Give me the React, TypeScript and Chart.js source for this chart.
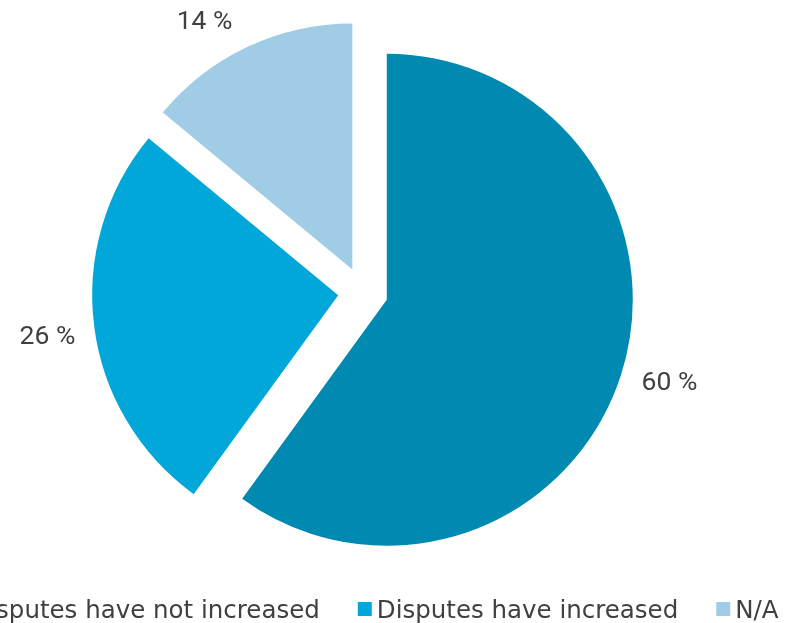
import React, { useEffect, useRef } from "react";
import { Chart, registerables } from "chart.js";

Chart.register(...registerables);

const categories = ["Disputes have not increased", "Disputes have increased", "N/A"];
const shares = [60, 26, 14];
const valueLabels = ["60 %", "26 %", "14 %"];
const colors = ["#0089B1", "#00A7D8", "#A1CCE5"];

const LABEL_FONT = "Roboto, 'DejaVu Sans', sans-serif";
const LEGEND_FONT = "'DejaVu Sans', Verdana, sans-serif";
const CANVAS_W = 912;
const CANVAS_H = 623;
const SHIFT_X = -120;
const EXPLODE = 25;
const RADIUS = 246;
const LABEL_GAP = 47;
// small per-label placement tweaks (px), label order follows slices
const LABEL_NUDGE_X = [4, 0, -23];
const LABEL_NUDGE_Y = [-7, 6, 18];
const LEGEND_CX = 485;
const LEGEND_BASE = 618;

const explodePlugin = {
  id: "explodeSlices",
  afterDatasetsUpdate(chart: any) {
    const meta = chart.getDatasetMeta(0);
    meta.data.forEach((arc: any) => {
      const mid = (arc.startAngle + arc.endAngle) / 2;
      arc.x += Math.cos(mid) * EXPLODE;
      arc.y += Math.sin(mid) * EXPLODE;
    });
  },
};

const labelPlugin = {
  id: "sliceLabels",
  afterDatasetsDraw(chart: any) {
    const ctx = chart.ctx;
    const meta = chart.getDatasetMeta(0);
    ctx.save();
    ctx.font = `26.5px ${LABEL_FONT}`;
    ctx.fillStyle = "#404040";
    ctx.textAlign = "center";
    ctx.textBaseline = "middle";
    meta.data.forEach((arc: any, i: number) => {
      const mid = (arc.startAngle + arc.endAngle) / 2;
      const d = arc.outerRadius + LABEL_GAP;
      ctx.fillText(
        valueLabels[i],
        arc.x + Math.cos(mid) * d + LABEL_NUDGE_X[i],
        arc.y + Math.sin(mid) * d + LABEL_NUDGE_Y[i]
      );
    });
    ctx.restore();
  },
};

const legendPlugin = {
  id: "bottomLegend",
  afterDraw(chart: any) {
    const ctx = chart.ctx;
    ctx.save();
    ctx.font = `24.5px ${LEGEND_FONT}`;
    ctx.textBaseline = "alphabetic";
    ctx.textAlign = "left";
    const box = 14;
    const boxGap = 5;
    const itemGap = 38;
    const widths = categories.map((c) => ctx.measureText(c).width);
    const total =
      widths.reduce((a, w) => a + box + boxGap + w, 0) + itemGap * (categories.length - 1);
    let x = LEGEND_CX - total / 2;
    categories.forEach((c, i) => {
      ctx.fillStyle = colors[i];
      ctx.fillRect(x, LEGEND_BASE - 16, box, box);
      x += box + boxGap;
      ctx.fillStyle = "#404040";
      ctx.fillText(c, x, LEGEND_BASE);
      x += widths[i] + itemGap;
    });
    ctx.restore();
  },
};

export default function App() {
  const ref = useRef<HTMLCanvasElement | null>(null);
  useEffect(() => {
    document.body.style.margin = "0";
    document.body.style.overflow = "hidden";
    const chart = new Chart(ref.current as HTMLCanvasElement, {
      type: "pie",
      data: {
        labels: categories,
        datasets: [
          {
            data: shares,
            backgroundColor: colors,
            borderWidth: 0,
          } as any,
        ],
      },
      options: {
        animation: false,
        responsive: false,
        radius: RADIUS,
        layout: { padding: { left: 54, right: 0, top: 0, bottom: 39 } },
        plugins: { legend: { display: false }, tooltip: { enabled: false } },
        events: [],
      } as any,
      plugins: [explodePlugin, labelPlugin, legendPlugin],
    });
    return () => chart.destroy();
  }, []);
  return (
    <div
      style={{
        position: "fixed",
        left: SHIFT_X,
        top: 0,
        width: CANVAS_W,
        height: CANVAS_H,
        background: "#fff",
      }}
    >
      <canvas ref={ref} width={CANVAS_W} height={CANVAS_H} />
    </div>
  );
}
